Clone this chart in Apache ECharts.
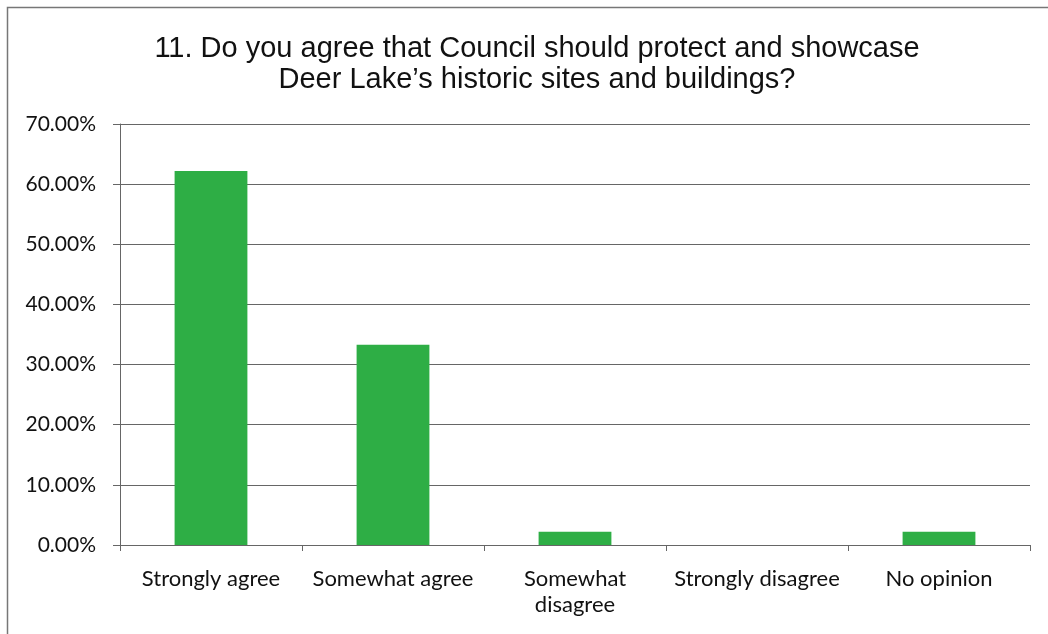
<!DOCTYPE html>
<html>
<head>
<meta charset="utf-8">
<script src="https://cdn.jsdelivr.net/npm/echarts@6/dist/echarts.min.js"></script>
<style>
  html, body { margin: 0; padding: 0; background: #fff; }
  #chart { width: 1048px; height: 634px; }
</style>
</head>
<body>
<div id="chart"></div>
<script>
// Survey question 11 responses (share of respondents)
const categories = ['Strongly agree', 'Somewhat agree', 'Somewhat\ndisagree', 'Strongly disagree', 'No opinion'];
const shares = [0.622, 0.333, 0.022, 0, 0.022];
const yTicks = { min: 0, max: 0.7, interval: 0.1 };

const chart = echarts.init(document.getElementById('chart'), null, { renderer: 'canvas' });

chart.setOption({
  backgroundColor: '#ffffff',
  animation: false,
  title: {
    text: '11. Do you agree that Council should protect and showcase\nDeer Lake\u2019s historic sites and buildings?',
    left: 532,
    textAlign: 'center',
    top: 28,
    textStyle: {
      fontFamily: '"Liberation Sans", Arial, sans-serif',
      fontSize: 29,
      fontWeight: 'normal',
      color: '#111',
      lineHeight: 31
    }
  },
  graphic: [
    {
      type: 'polyline',
      shape: { points: [[7.5, 700], [7.5, 7.5], [1100, 7.5]] },
      style: { stroke: '#777', lineWidth: 1.5, fill: null },
      silent: true
    }
  ],
  grid: { left: 120, right: 18, top: 124, bottom: 89, containLabel: false },
  xAxis: {
    type: 'category',
    data: categories,
    axisLine: { show: true, lineStyle: { color: '#666', width: 1 } },
    axisTick: { show: true, alignWithLabel: false, length: 6, lineStyle: { color: '#666' } },
    axisLabel: {
      interval: 0,
      margin: 21,
      fontFamily: 'Lato, "Open Sans", sans-serif',
      fontSize: 22,
      color: '#111',
      lineHeight: 26
    }
  },
  yAxis: {
    type: 'value',
    min: yTicks.min,
    max: yTicks.max,
    interval: yTicks.interval,
    axisLine: { show: true, lineStyle: { color: '#666', width: 1 } },
    axisTick: { show: true, length: 7, lineStyle: { color: '#666' } },
    axisLabel: {
      margin: 24,
      fontFamily: 'Lato, "Open Sans", sans-serif',
      fontSize: 21,
      color: '#111',
      formatter: v => (v * 100).toFixed(2) + '%'
    },
    splitLine: { show: true, lineStyle: { color: '#666', width: 1 } }
  },
  series: [
    {
      type: 'bar',
      data: shares,
      barCategoryGap: '60%',
      itemStyle: { color: '#2eae45' }
    }
  ]
});
</script>
</body>
</html>
